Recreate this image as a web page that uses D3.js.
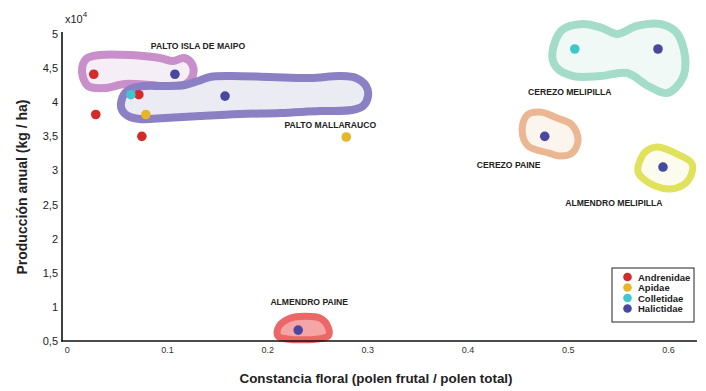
<!DOCTYPE html>
<html>
<head>
<meta charset="utf-8">
<script src="https://cdn.jsdelivr.net/npm/d3@7"></script>
<style>
  html, body { margin: 0; padding: 0; background: #fff; }
  svg { display: block; font-family: "Liberation Sans", Arial, sans-serif; }
</style>
</head>
<body>
<svg id="chart" width="706" height="391"></svg>
<script>
// ---------- DATA ----------
const families = ["Andrenidae", "Apidae", "Colletidae", "Halictidae"];

const andrenidaeX = [0.027, 0.029, 0.072, 0.075];
const andrenidaeY = [4.41, 3.82, 4.11, 3.50];
const apidaeX = [0.079, 0.279];
const apidaeY = [3.82, 3.49];
const colletidaeX = [0.064, 0.507];
const colletidaeY = [4.11, 4.78];
const halictidaeX = [0.108, 0.158, 0.477, 0.590, 0.595, 0.231];
const halictidaeY = [4.41, 4.09, 3.50, 4.78, 3.05, 0.66];

const xTicks = [0, 0.1, 0.2, 0.3, 0.4, 0.5, 0.6];
const yTicks = [0.5, 1, 1.5, 2, 2.5, 3, 3.5, 4, 4.5, 5];

// Group outlines (data units: constancia, producción x10^4)
const paltoIslaX = [0.0153, 0.0193, 0.0332, 0.0632, 0.0931, 0.1061, 0.1171, 0.1250, 0.1260, 0.1190, 0.1051, 0.0831, 0.0582, 0.0382, 0.0213];
const paltoIslaY = [4.443, 4.633, 4.692, 4.692, 4.648, 4.604, 4.648, 4.560, 4.399, 4.267, 4.223, 4.252, 4.267, 4.208, 4.238];

const paltoMallX = [0.0542, 0.0582, 0.0662, 0.0781, 0.0981, 0.1180, 0.1310, 0.1430, 0.1630, 0.2029, 0.2428, 0.2728, 0.2887, 0.2987, 0.3007, 0.2957, 0.2847, 0.2528, 0.2129, 0.1730, 0.1330, 0.0981, 0.0732, 0.0612, 0.0552];
const paltoMallY = [3.988, 4.135, 4.208, 4.238, 4.238, 4.252, 4.311, 4.370, 4.384, 4.370, 4.355, 4.384, 4.355, 4.238, 4.091, 3.944, 3.886, 3.871, 3.842, 3.827, 3.798, 3.768, 3.754, 3.798, 3.886];

const cerezoMeliX = [0.4846, 0.4943, 0.5153, 0.5342, 0.5492, 0.5691, 0.5921, 0.6081, 0.6171, 0.6141, 0.5991, 0.5802, 0.5592, 0.5322, 0.5053, 0.4883];
const cerezoMeliY = [4.721, 5.059, 5.147, 5.088, 5.000, 5.118, 5.147, 5.029, 4.663, 4.340, 4.135, 4.238, 4.428, 4.384, 4.384, 4.516];

const cerezoPaineX = [0.4594, 0.4724, 0.4893, 0.5043, 0.5103, 0.5043, 0.4913, 0.4813, 0.4604, 0.4544];
const cerezoPaineY = [3.812, 3.856, 3.768, 3.666, 3.446, 3.255, 3.211, 3.255, 3.358, 3.592];

const almMeliX = [0.5772, 0.5891, 0.6111, 0.6241, 0.6211, 0.6081, 0.5871, 0.5701, 0.5731];
const almMeliY = [3.270, 3.343, 3.226, 3.094, 2.874, 2.742, 2.771, 2.977, 3.182];

const almPaineX = [0.2109, 0.2119, 0.2229, 0.2379, 0.2529, 0.2609, 0.2609];
const almPaineY = [0.572, 0.718, 0.835, 0.864, 0.835, 0.703, 0.572];

const groupNames = ["PALTO ISLA DE MAIPO", "PALTO MALLARAUCO", "CEREZO MELIPILLA", "CEREZO PAINE", "ALMENDRO MELIPILLA", "ALMENDRO PAINE"];
const labelX = [0.131, 0.263, 0.502, 0.441, 0.546, 0.242];
const labelY = [4.78, 3.62, 4.105, 3.035, 2.478, 1.026];

// ---------- STYLE ----------
const famColor = { Andrenidae: "#d32a2a", Apidae: "#e6b62a", Colletidae: "#3fc6cf", Halictidae: "#4848a0" };

const svg = d3.select("#chart");
const x = d3.scaleLinear().domain([0, 0.6]).range([66.7, 668]);
const y = d3.scaleLinear().domain([0.5, 5]).range([341, 34]);

// ---------- BLOBS ----------
const blobs = [
  { xs: paltoIslaX, ys: paltoIslaY, stroke: "#c98fca", fill: "#f5eef6", w: 8 },
  { xs: paltoMallX, ys: paltoMallY, stroke: "#8a80c3", fill: "#ebebf4", w: 8 },
  { xs: cerezoMeliX, ys: cerezoMeliY, stroke: "#a4dcca", fill: "#f1f9f6", w: 8 },
  { xs: cerezoPaineX, ys: cerezoPaineY, stroke: "#ebb792", fill: "#fcf5ee", w: 7 },
  { xs: almMeliX, ys: almMeliY, stroke: "#dfe25a", fill: "#fcfcee", w: 7 },
  { xs: almPaineX, ys: almPaineY, stroke: "#ec6868", fill: "#f5a5a5", w: 7 }
];
const line = d3.line().x(d => x(d[0])).y(d => y(d[1])).curve(d3.curveCatmullRomClosed.alpha(0.5));
svg.append("g").selectAll("path").data(blobs).join("path")
  .attr("d", b => line(b.xs.map((v, i) => [v, b.ys[i]])))
  .attr("fill", b => b.fill)
  .attr("stroke", b => b.stroke)
  .attr("stroke-width", b => b.w)
  .attr("stroke-linejoin", "round");

// ---------- AXES ----------
const xAxis = d3.axisBottom(x).tickValues(xTicks).tickSize(0).tickPadding(6)
  .tickFormat(d => d === 0 ? "0" : d3.format(".1f")(d));
const gx = svg.append("g").attr("transform", "translate(0,341)").call(xAxis);
gx.select(".domain").remove();
gx.selectAll("text").attr("font-size", 9).attr("fill", "#333").attr("font-family", "Liberation Sans, Arial, sans-serif");

const loc = d3.formatLocale({ decimal: ",", thousands: ".", grouping: [3], currency: ["", ""] });
const yAxis = d3.axisLeft(y).tickValues(yTicks).tickSize(0).tickPadding(4)
  .tickFormat(d => Number.isInteger(d) ? String(d) : loc.format(".1f")(d));
const gy = svg.append("g").attr("transform", "translate(62,0)").call(yAxis);
gy.select(".domain").remove();
gy.selectAll("text").attr("font-size", 11).attr("fill", "#222").attr("font-family", "Liberation Sans, Arial, sans-serif");

// axis lines
svg.append("line").attr("x1", 62).attr("x2", 62).attr("y1", 32).attr("y2", 341.5).attr("stroke", "#111").attr("stroke-width", 1.6);
svg.append("line").attr("x1", 61.2).attr("x2", 697).attr("y1", 341).attr("y2", 341).attr("stroke", "#111").attr("stroke-width", 1.6);

// x10^4
const mult = svg.append("text").attr("x", 65).attr("y", 23).attr("font-size", 11).attr("fill", "#222");
mult.append("tspan").text("x10");
mult.append("tspan").attr("dy", -6).attr("font-size", 8).text("4");

// axis titles
svg.append("text").attr("x", 376).attr("y", 383).attr("text-anchor", "middle")
  .attr("font-size", 13.4).attr("font-weight", "bold").attr("fill", "#222")
  .text("Constancia floral (polen frutal / polen total)");
svg.append("text").attr("transform", "translate(27,187) rotate(-90)").attr("text-anchor", "middle")
  .attr("font-size", 14).attr("font-weight", "bold").attr("fill", "#222")
  .text("Producción anual (kg / ha)");

// group labels
svg.append("g").selectAll("text").data(groupNames).join("text")
  .attr("x", (d, i) => x(labelX[i])).attr("y", (d, i) => y(labelY[i]))
  .attr("text-anchor", "middle").attr("font-size", 8.6).attr("font-weight", "bold").attr("fill", "#222")
  .text(d => d);

// ---------- POINTS ----------
const pts = [];
[[andrenidaeX, andrenidaeY], [apidaeX, apidaeY], [colletidaeX, colletidaeY], [halictidaeX, halictidaeY]]
  .forEach((s, k) => s[0].forEach((v, i) => pts.push({ f: families[k], x: v, y: s[1][i] })));
svg.append("g").selectAll("circle").data(pts).join("circle")
  .attr("cx", d => x(d.x)).attr("cy", d => y(d.y)).attr("r", 4.8)
  .attr("fill", d => famColor[d.f]);

// ---------- LEGEND ----------
const lg = svg.append("g").attr("transform", "translate(612,268)");
lg.append("rect").attr("width", 82).attr("height", 54).attr("fill", "#fff").attr("stroke", "#222").attr("stroke-width", 1);
const li = lg.selectAll("g").data(families).join("g").attr("transform", (d, i) => `translate(0,${9 + i * 10.5})`);
li.append("circle").attr("cx", 15.5).attr("cy", 0).attr("r", 4.3).attr("fill", d => famColor[d]);
li.append("text").attr("x", 26).attr("y", 3.5).attr("font-size", 9.5).attr("font-weight", "bold").attr("fill", "#222").text(d => d);
</script>
</body>
</html>
